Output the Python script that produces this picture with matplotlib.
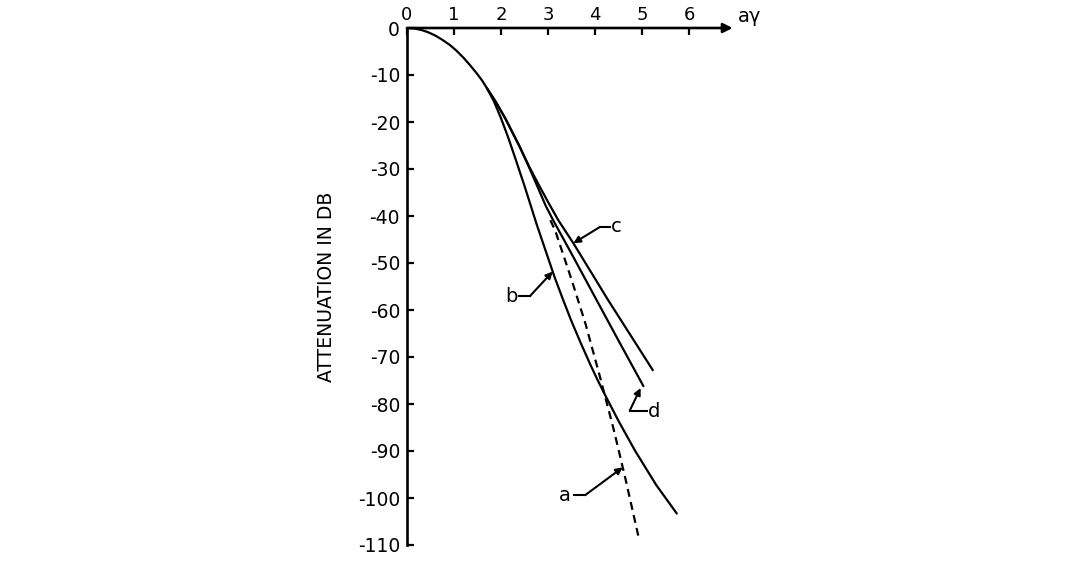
import numpy as np
import matplotlib
matplotlib.use("Agg")
import matplotlib.pyplot as plt

# ---------------- data ----------------
x_ticks = [0, 1, 2, 3, 4, 5, 6]
x_ticklabels = ["0", "1", "2", "3", "4", "5", "6"]
y_ticks = [0, -10, -20, -30, -40, -50, -60, -70, -80, -90, -100, -110]
y_ticklabels = ["0", "-10", "-20", "-30", "-40", "-50", "-60", "-70", "-80",
                "-90", "-100", "-110"]

# shared initial part of all curves
common_x = [0.0, 0.15, 0.3, 0.45, 0.6, 0.75, 0.91, 1.05, 1.2, 1.34, 1.48, 1.60, 1.70]
common_y = [0.0, -0.1, -0.4, -0.9, -1.6, -2.5, -3.6, -4.8, -6.3, -7.9, -9.6, -11.2, -12.8]

b_x = [1.70, 1.85, 2.00, 2.15, 2.30, 2.50, 2.76, 2.95, 3.14, 3.32, 3.50, 3.70, 3.90,
       4.05, 4.20, 4.50, 4.85, 5.30, 5.74]
b_y = [-12.8, -15.6, -19.2, -23.2, -27.6, -33.6, -41.8, -47.4, -53.0, -57.8, -62.4,
       -67.1, -71.6, -74.8, -77.8, -83.6, -89.9, -97.2, -103.3]

c_x = [1.70, 1.90, 2.10, 2.40, 2.60, 2.80, 3.00, 3.22, 3.54, 4.28, 5.23]
c_y = [-12.8, -15.9, -19.4, -25.3, -29.5, -33.3, -37.0, -40.9, -45.8, -57.9, -72.8]

d_x = [1.70, 1.90, 2.10, 2.40, 2.60, 2.80, 2.95, 3.11, 3.50, 4.04, 4.50, 5.03]
d_y = [-12.8, -15.9, -19.4, -25.3, -29.7, -34.3, -37.8, -40.9, -48.0, -58.0, -66.5, -76.2]

a_x = [3.05, 3.15, 3.50, 3.80, 4.10, 4.40, 4.65, 4.92]
a_y = [-40.9, -43.0, -53.5, -63.0, -74.0, -85.5, -96.0, -108.0]

# ---------------- figure ----------------
fig = plt.figure(figsize=(10.8, 5.7), dpi=100)
ax = fig.add_axes([407 / 1080, 1 - 545 / 570, 7 * 47 / 1080, 517 / 570])
ax.set_xlim(0, 7)
ax.set_ylim(-110, 0)

lw = 1.6
ax.plot(common_x, common_y, color="black", lw=lw, solid_capstyle="round",
        solid_joinstyle="round")
for xs, ys in [(b_x, b_y), (c_x, c_y), (d_x, d_y)]:
    ax.plot(xs, ys, color="black", lw=lw, solid_capstyle="round",
            solid_joinstyle="round")
ax.plot(a_x, a_y, color="black", lw=lw, linestyle=(0, (3.6, 2.4)))

# spines / axes
for s in ["right", "bottom", "top"]:
    ax.spines[s].set_visible(False)
ax.spines["left"].set_linewidth(1.9)
ax.annotate("", xy=(6.93, 0), xytext=(0, 0), xycoords="data",
            arrowprops=dict(arrowstyle="-|>", lw=1.9, color="black",
                            mutation_scale=14, shrinkA=0, shrinkB=0),
            annotation_clip=False)

ax.xaxis.tick_top()
ax.set_xticks(x_ticks)
ax.set_xticklabels(x_ticklabels)
ax.set_yticks(y_ticks)
ax.set_yticklabels(y_ticklabels)
ax.tick_params(axis="x", direction="in", length=5, width=1.6, pad=3,
               labelsize=13)
ax.tick_params(axis="y", direction="in", length=5, width=1.6, pad=5,
               labelsize=13.5)

ax.text(7.05, 0.5, "aγ", fontsize=14, ha="left", va="bottom",
        clip_on=False)

ax.set_ylabel("ATTENUATION IN DB", fontsize=13.5, labelpad=16)


# ---------------- curve labels with arrows ----------------
def label(txt, txt_xy, stub_from, stub_to, tip):
    ax.text(txt_xy[0], txt_xy[1], txt, fontsize=14, ha="center",
            va="center")
    ax.plot([stub_from[0], stub_to[0]], [stub_from[1], stub_to[1]],
            color="black", lw=1.5)
    ax.annotate("", xy=tip, xytext=stub_to,
                arrowprops=dict(arrowstyle="-|>", lw=1.5, color="black",
                                mutation_scale=10, shrinkA=0, shrinkB=0))


tip_b = (3.10, float(np.interp(3.10, b_x, b_y)))
label("b", (2.22, -57.2), (2.38, -57.0), (2.62, -57.0), tip_b)

tip_c = (3.54, float(np.interp(3.54, c_x, c_y)))
label("c", (4.45, -42.3), (4.32, -42.3), (4.11, -42.3), tip_c)

tip_a = (4.59, float(np.interp(4.59, a_x, a_y)))
label("a", (3.36, -99.4), (3.55, -99.4), (3.79, -99.4), tip_a)

# d: stub then stroke up to the end of curve d
ax.text(5.26, -81.6, "d", fontsize=14, ha="center", va="center")
ax.plot([5.10, 4.74], [-81.4, -81.4], color="black", lw=1.5)
ax.annotate("", xy=(4.97, -76.6), xytext=(4.74, -81.4),
            arrowprops=dict(arrowstyle="-|>", lw=1.5, color="black",
                            mutation_scale=10, shrinkA=0, shrinkB=0))

fig.savefig("out.png", dpi=100)
